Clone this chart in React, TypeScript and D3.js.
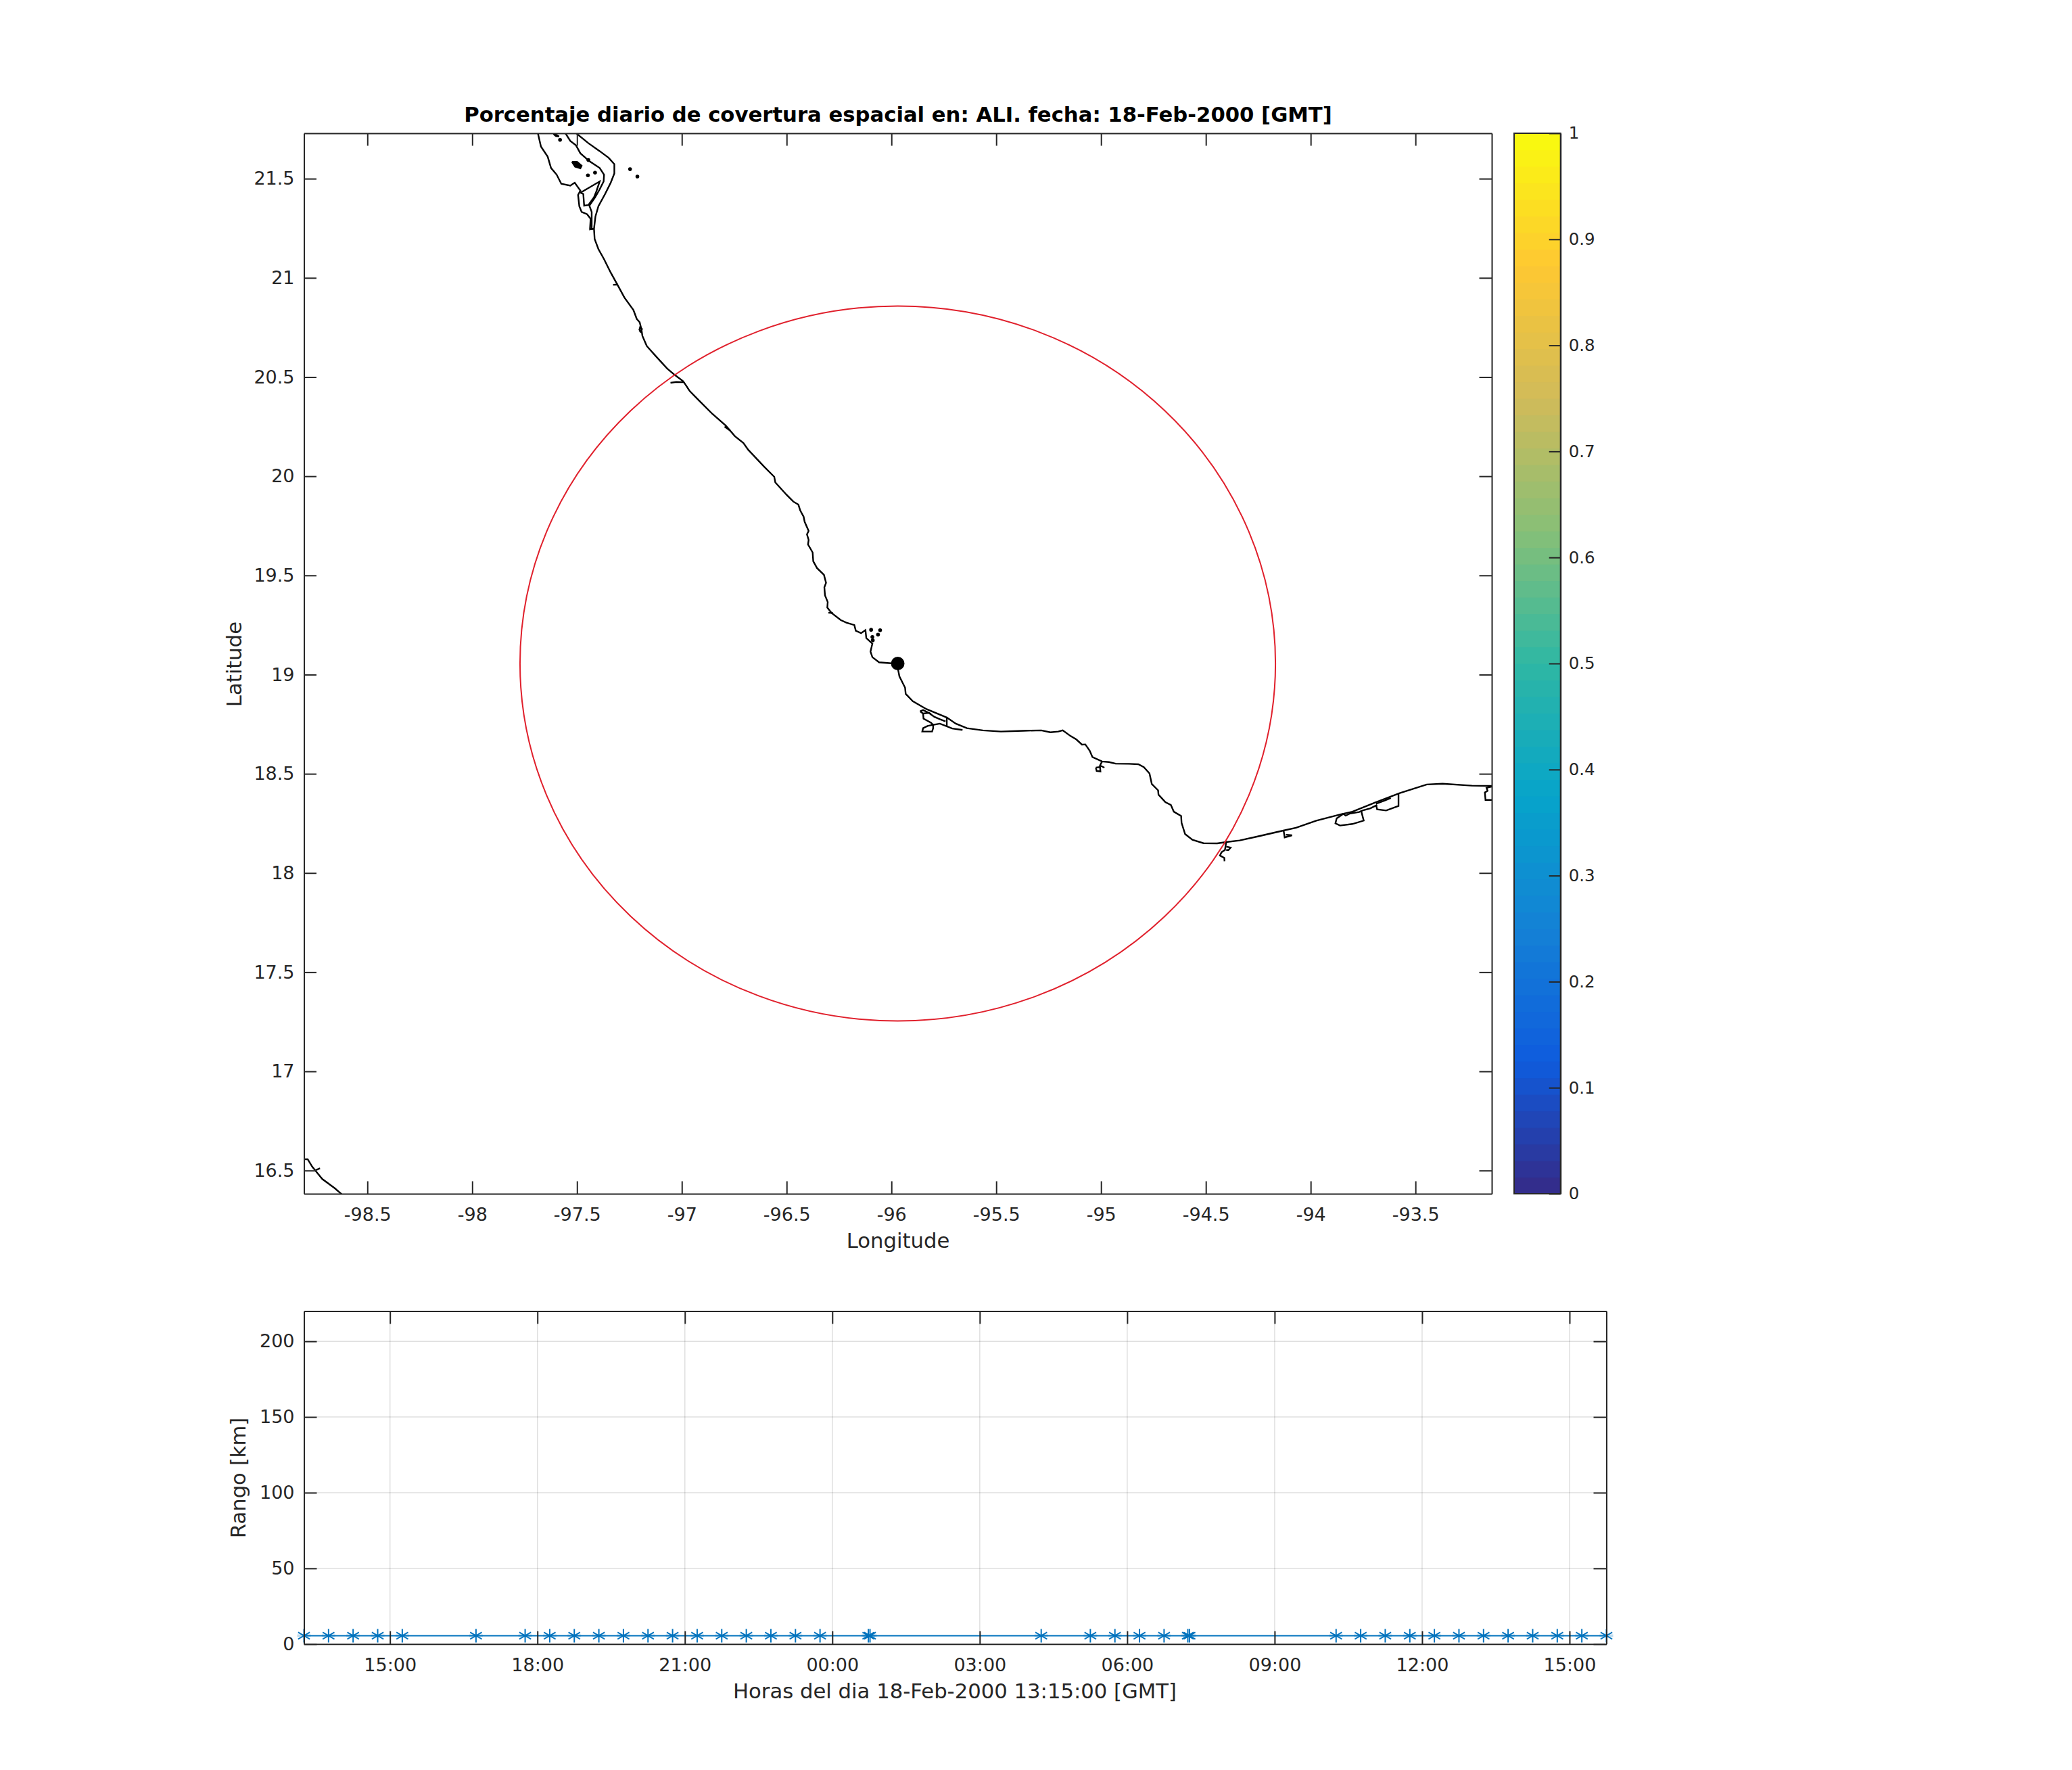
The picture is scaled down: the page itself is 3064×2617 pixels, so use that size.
import React, { useEffect, useRef } from 'react';
import * as d3 from 'd3';

type Pt = [number, number];

// Coastline, as [longitude, latitude]
const mainCoast: Pt[] = [
  [-97.511, 21.735], [-97.446, 21.679], [-97.392, 21.639], [-97.349, 21.605], [-97.322, 21.573], [-97.322, 21.526],
  [-97.339, 21.48], [-97.366, 21.423], [-97.398, 21.361], [-97.412, 21.31], [-97.419, 21.247], [-97.416, 21.196],
  [-97.398, 21.145], [-97.371, 21.094], [-97.339, 21.026], [-97.306, 20.963], [-97.274, 20.901], [-97.231, 20.838],
  [-97.215, 20.793], [-97.201, 20.776], [-97.193, 20.742], [-97.188, 20.707], [-97.167, 20.656], [-97.124, 20.605],
  [-97.07, 20.543], [-97.032, 20.509], [-96.995, 20.48], [-96.989, 20.472], [-96.962, 20.429], [-96.919, 20.383],
  [-96.855, 20.315], [-96.79, 20.255], [-96.747, 20.202], [-96.706, 20.167], [-96.683, 20.133], [-96.607, 20.048],
  [-96.559, 19.997], [-96.554, 19.969], [-96.5, 19.906], [-96.468, 19.872], [-96.444, 19.857], [-96.435, 19.827],
  [-96.419, 19.796], [-96.414, 19.77], [-96.395, 19.724], [-96.403, 19.707], [-96.395, 19.679], [-96.398, 19.656],
  [-96.376, 19.616], [-96.373, 19.571], [-96.355, 19.537], [-96.322, 19.503], [-96.312, 19.463], [-96.32, 19.44],
  [-96.317, 19.4], [-96.304, 19.366], [-96.306, 19.338], [-96.285, 19.31], [-96.242, 19.275], [-96.215, 19.262],
  [-96.177, 19.25], [-96.17, 19.221], [-96.145, 19.209], [-96.124, 19.224], [-96.12, 19.184], [-96.091, 19.156],
  [-96.1, 19.116], [-96.091, 19.088], [-96.059, 19.062], [-96.0, 19.057], [-95.968, 19.056], [-95.968, 19.023],
  [-95.962, 18.991], [-95.935, 18.934], [-95.932, 18.903], [-95.898, 18.866], [-95.833, 18.826], [-95.736, 18.784],
  [-95.693, 18.753], [-95.64, 18.73], [-95.564, 18.719], [-95.478, 18.713], [-95.371, 18.717], [-95.285, 18.719],
  [-95.242, 18.709], [-95.204, 18.713], [-95.183, 18.719], [-95.145, 18.69], [-95.118, 18.673], [-95.091, 18.647],
  [-95.075, 18.648], [-95.054, 18.616], [-95.041, 18.584], [-94.995, 18.562], [-94.962, 18.559], [-94.93, 18.551],
  [-94.866, 18.55], [-94.822, 18.548], [-94.796, 18.534], [-94.769, 18.502], [-94.758, 18.449], [-94.728, 18.417],
  [-94.726, 18.395], [-94.693, 18.357], [-94.667, 18.343], [-94.653, 18.309], [-94.618, 18.287], [-94.616, 18.253],
  [-94.599, 18.196], [-94.564, 18.167], [-94.511, 18.15], [-94.446, 18.149], [-94.403, 18.156], [-94.339, 18.164],
  [-94.253, 18.184], [-94.134, 18.213], [-94.07, 18.228], [-93.973, 18.264], [-93.855, 18.296], [-93.801, 18.309],
  [-93.693, 18.355], [-93.575, 18.403], [-93.446, 18.446], [-93.371, 18.45], [-93.231, 18.44], [-93.12, 18.439],
];
const lagoonInner: Pt[] = [
  [-97.559, 21.735], [-97.532, 21.69], [-97.505, 21.668], [-97.484, 21.628], [-97.441, 21.588], [-97.392, 21.554],
  [-97.371, 21.52], [-97.373, 21.486], [-97.392, 21.446], [-97.414, 21.406], [-97.441, 21.364], [-97.43, 21.332],
  [-97.43, 21.253], [-97.435, 21.245], [-97.421, 21.247],
];
const lagoonWest: Pt[] = [
  [-97.688, 21.735], [-97.672, 21.662], [-97.64, 21.611], [-97.624, 21.554], [-97.597, 21.52], [-97.575, 21.474],
  [-97.532, 21.465], [-97.511, 21.48], [-97.484, 21.44], [-97.495, 21.418], [-97.489, 21.361], [-97.478, 21.332],
  [-97.452, 21.321], [-97.435, 21.298], [-97.438, 21.247], [-97.421, 21.247],
];
const lagoonLoop: Pt[] = [
  [-97.484, 21.429], [-97.392, 21.486], [-97.408, 21.435], [-97.419, 21.406], [-97.446, 21.367], [-97.466, 21.364],
  [-97.47, 21.423], [-97.484, 21.429],
];
const islandA: Pt[] = [[-97.524, 21.585], [-97.5, 21.585], [-97.478, 21.565], [-97.484, 21.552], [-97.509, 21.56], [-97.524, 21.585]];
const islandB: Pt[] = [[-97.613, 21.725], [-97.6, 21.722], [-97.586, 21.713], [-97.6, 21.714], [-97.613, 21.725]];
const spurs: Pt[][] = [
  [[-97.328, 20.965], [-97.304, 20.966]],
  [[-97.203, 20.736], [-97.199, 20.751], [-97.19, 20.742], [-97.197, 20.728], [-97.203, 20.736]],
  [[-97.054, 20.471], [-97.027, 20.475], [-96.989, 20.474]],
  [[-96.796, 20.25], [-96.769, 20.23]],
  [[-96.301, 19.312], [-96.279, 19.31]],
];
const alvarado: Pt[][] = [
  [[-95.863, 18.815], [-95.849, 18.821], [-95.822, 18.807], [-95.849, 18.804], [-95.863, 18.815]],
  [[-95.849, 18.804], [-95.847, 18.778], [-95.812, 18.758], [-95.801, 18.747], [-95.769, 18.753], [-95.736, 18.739], [-95.71, 18.728], [-95.661, 18.721]],
  [[-95.736, 18.784], [-95.736, 18.739]],
  [[-95.822, 18.807], [-95.795, 18.787], [-95.769, 18.775], [-95.742, 18.764]],
  [[-95.801, 18.747], [-95.828, 18.741], [-95.849, 18.73], [-95.853, 18.713], [-95.806, 18.713], [-95.801, 18.73], [-95.801, 18.747]],
];
const rivers: Pt[][] = [
  [[-94.995, 18.562], [-95.005, 18.542], [-94.984, 18.531]],
  [[-95.025, 18.531], [-95.005, 18.534], [-95.003, 18.512], [-95.021, 18.514], [-95.025, 18.531]],
  [[-94.403, 18.156], [-94.409, 18.116], [-94.425, 18.105], [-94.433, 18.088], [-94.412, 18.076], [-94.411, 18.059]],
  [[-94.403, 18.133], [-94.382, 18.128], [-94.392, 18.116], [-94.403, 18.116]],
  [[-94.129, 18.213], [-94.124, 18.179], [-94.089, 18.19], [-94.118, 18.193]],
];
const easternLagoons: Pt[][] = [
  [[-93.844, 18.298], [-93.876, 18.275], [-93.882, 18.25], [-93.86, 18.239], [-93.801, 18.247], [-93.747, 18.264], [-93.758, 18.309]],
  [[-93.844, 18.298], [-93.833, 18.289], [-93.812, 18.3], [-93.769, 18.307], [-93.753, 18.315], [-93.715, 18.326], [-93.683, 18.343]],
  [[-93.688, 18.343], [-93.683, 18.321], [-93.64, 18.315], [-93.581, 18.338], [-93.581, 18.4]],
  [[-93.688, 18.349], [-93.645, 18.366], [-93.618, 18.378]],
  [[-93.12, 18.439], [-93.161, 18.429], [-93.156, 18.414], [-93.169, 18.406], [-93.166, 18.368], [-93.12, 18.368]],
];
const southWestCoast: Pt[] = [
  [-98.81, 16.557], [-98.785, 16.557], [-98.763, 16.519], [-98.737, 16.485], [-98.715, 16.457], [-98.656, 16.411], [-98.62, 16.378],
];
const southWestSpur: Pt[] = [[-98.747, 16.502], [-98.726, 16.511]];
const islets: Pt[] = [
  [-97.448, 21.517], [-97.414, 21.53], [-97.581, 21.696], [-97.247, 21.548], [-97.212, 21.511], [-97.446, 21.594],
  [-96.097, 19.226], [-96.054, 19.224], [-96.064, 19.202], [-96.091, 19.19], [-96.089, 19.173],
];

const siteLonLat: Pt = [-95.97, 19.056];
const circleRadiusDeg = 1.802;

const lonDomain: Pt = [-98.8026, -93.136];
const latDomain: Pt = [16.383, 21.729];
const lonTicks = [-98.5, -98, -97.5, -97, -96.5, -96, -95.5, -95, -94.5, -94, -93.5];
const latTicks = [16.5, 17, 17.5, 18, 18.5, 19, 19.5, 20, 20.5, 21, 21.5];

const parulaStops = ['#352a87', '#0f5cdd', '#1481d6', '#06a4ca', '#2eb7a4', '#87bf77', '#d1bb59', '#fec832', '#f9fb0e'];
const colorTicks = [0, 0.1, 0.2, 0.3, 0.4, 0.5, 0.6, 0.7, 0.8, 0.9, 1];

// Hours with data (18 to 19 Feb 2000)
const sampleTimes = [
  '2000-02-18T13:15Z', '2000-02-18T13:45Z', '2000-02-18T14:15Z', '2000-02-18T14:45Z', '2000-02-18T15:15Z',
  '2000-02-18T16:45Z', '2000-02-18T17:45Z', '2000-02-18T18:15Z', '2000-02-18T18:45Z', '2000-02-18T19:15Z',
  '2000-02-18T19:45Z', '2000-02-18T20:15Z', '2000-02-18T20:45Z', '2000-02-18T21:15Z', '2000-02-18T21:45Z',
  '2000-02-18T22:15Z', '2000-02-18T22:45Z', '2000-02-18T23:15Z', '2000-02-18T23:45Z', '2000-02-19T00:44Z',
  '2000-02-19T00:46Z', '2000-02-19T04:15Z', '2000-02-19T05:15Z', '2000-02-19T05:45Z', '2000-02-19T06:15Z',
  '2000-02-19T06:45Z', '2000-02-19T07:14Z', '2000-02-19T07:16Z', '2000-02-19T10:15Z', '2000-02-19T10:45Z',
  '2000-02-19T11:15Z', '2000-02-19T11:45Z', '2000-02-19T12:15Z', '2000-02-19T12:45Z', '2000-02-19T13:15Z',
  '2000-02-19T13:45Z', '2000-02-19T14:15Z', '2000-02-19T14:45Z', '2000-02-19T15:15Z', '2000-02-19T15:45Z',
];
const sampleRange = [
  5.5, 5.5, 5.5, 5.5, 5.5, 5.5, 5.5, 5.5, 5.5, 5.5,
  5.5, 5.5, 5.5, 5.5, 5.5, 5.5, 5.5, 5.5, 5.5, 5.5,
  5.5, 5.5, 5.5, 5.5, 5.5, 5.5, 5.5, 5.5, 5.5, 5.5,
  5.5, 5.5, 5.5, 5.5, 5.5, 5.5, 5.5, 5.5, 5.5, 5.5,
];
const timeDomain = ['2000-02-18T13:15Z', '2000-02-19T15:45Z'];
const timeTicks = [
  '2000-02-18T15:00Z', '2000-02-18T18:00Z', '2000-02-18T21:00Z', '2000-02-19T00:00Z', '2000-02-19T03:00Z',
  '2000-02-19T06:00Z', '2000-02-19T09:00Z', '2000-02-19T12:00Z', '2000-02-19T15:00Z',
];
const rangeTicks = [0, 50, 100, 150, 200];

const FONT = '"DejaVu Sans"';
const INK = '#262626';

// box with ticks pointing inwards on all four sides, labels on left and bottom
function drawBox(
  g: d3.Selection<SVGGElement, unknown, null, undefined>,
  x: any,
  y: any,
  xTicks: any[],
  yTicks: number[],
  xFormat: (d: any) => string,
  tick: number,
) {
  const [x0, x1] = x.range();
  const [y1, y0] = y.range();
  const sides = [
    { t: `translate(0,${y1})`, a: d3.axisBottom(x).tickValues(xTicks).tickFormat(xFormat as any).tickPadding(21) },
    { t: `translate(0,${y0})`, a: d3.axisTop(x).tickValues(xTicks).tickFormat(() => '') },
    { t: `translate(${x0},0)`, a: d3.axisLeft(y).tickValues(yTicks).tickFormat((d: any) => String(d)).tickPadding(14) },
    { t: `translate(${x1},0)`, a: d3.axisRight(y).tickValues(yTicks).tickFormat(() => '') },
  ];
  sides.forEach(({ t, a }) => {
    const ag = g.append('g').attr('transform', t).call((a as any).tickSizeInner(-tick).tickSizeOuter(0));
    ag.selectAll('.domain').attr('stroke', INK).attr('stroke-width', 2);
    ag.selectAll('.tick line').attr('stroke', INK).attr('stroke-width', 2);
    ag.selectAll('text').attr('fill', INK).style('font-family', FONT).style('font-size', '27px');
  });
}

function addLabel(svg: any, text: string, x: number, y: number, size: number, rotate = false) {
  svg
    .append('text')
    .attr('transform', `translate(${x},${y})${rotate ? ' rotate(-90)' : ''}`)
    .attr('text-anchor', 'middle')
    .attr('fill', INK)
    .style('font-family', FONT)
    .style('font-size', `${size}px`)
    .text(text);
}

export default function App() {
  const svgRef = useRef<SVGSVGElement>(null);

  useEffect(() => {
    if (!svgRef.current) return;
    const svg = d3.select(svgRef.current);
    svg.selectAll('*').remove();

    // Map panel
    const lon = d3.scaleLinear().domain(lonDomain).range([449.5, 2206]);
    const lat = d3.scaleLinear().domain(latDomain).range([1765, 197]);

    svg.append('defs').append('clipPath').attr('id', 'map-clip')
      .append('rect')
      .attr('x', 449.5).attr('y', 197).attr('width', 2206 - 449.5).attr('height', 1765 - 197);

    const mapLine = d3.line<Pt>().x((d) => lon(d[0])).y((d) => lat(d[1]));
    const map = svg.append('g').attr('clip-path', 'url(#map-clip)');

    const coastPaths: Pt[][] = [
      mainCoast, lagoonInner, lagoonWest, lagoonLoop, southWestCoast, southWestSpur,
      ...spurs, ...alvarado, ...rivers, ...easternLagoons,
    ];
    map.selectAll('path.coast').data(coastPaths).enter().append('path')
      .attr('class', 'coast')
      .attr('d', (d) => mapLine(d))
      .attr('fill', 'none')
      .attr('stroke', '#000')
      .attr('stroke-width', 2.4);

    map.selectAll('path.island').data([islandA, islandB]).enter().append('path')
      .attr('class', 'island')
      .attr('d', (d) => mapLine(d))
      .attr('fill', '#000')
      .attr('stroke', '#000')
      .attr('stroke-width', 2.4);

    map.selectAll('circle.islet').data(islets).enter().append('circle')
      .attr('class', 'islet')
      .attr('cx', (d) => lon(d[0]))
      .attr('cy', (d) => lat(d[1]))
      .attr('r', 2.8)
      .attr('fill', '#000');

    map.append('ellipse')
      .attr('cx', lon(siteLonLat[0]))
      .attr('cy', lat(siteLonLat[1]))
      .attr('rx', lon(siteLonLat[0] + circleRadiusDeg) - lon(siteLonLat[0]))
      .attr('ry', lat(siteLonLat[1]) - lat(siteLonLat[1] + circleRadiusDeg))
      .attr('fill', 'none')
      .attr('stroke', '#e0202c')
      .attr('stroke-width', 2);

    map.append('circle')
      .attr('cx', lon(siteLonLat[0]))
      .attr('cy', lat(siteLonLat[1]))
      .attr('r', 10)
      .attr('fill', '#000');

    drawBox(svg.append('g') as any, lon, lat, lonTicks, latTicks, (d) => String(d), 18.5);

    svg.append('text')
      .attr('x', 1328).attr('y', 180)
      .attr('text-anchor', 'middle')
      .attr('fill', '#000')
      .style('font-family', FONT)
      .style('font-size', '30.7px')
      .style('font-weight', 'bold')
      .text('Porcentaje diario de covertura espacial en: ALI. fecha: 18-Feb-2000 [GMT]');
    addLabel(svg, 'Longitude', 1328, 1845, 30.7);
    addLabel(svg, 'Latitude', 357, 982, 30.7, true);

    // Colorbar
    const cbar = d3.scaleLinear().domain([0, 1]).range([1765, 197]);
    const parula = d3.scaleLinear<string>()
      .domain(parulaStops.map((_, i) => i / (parulaStops.length - 1)))
      .range(parulaStops)
      .interpolate(d3.interpolateRgb);
    const levels = d3.range(64);
    svg.append('g').selectAll('rect').data(levels).enter().append('rect')
      .attr('x', 2239)
      .attr('width', 2307.7 - 2239)
      .attr('y', (d) => cbar((d + 1) / 64))
      .attr('height', (d) => cbar(d / 64) - cbar((d + 1) / 64) + 0.6)
      .attr('fill', (d) => parula((d + 0.5) / 64));
    const cbarAxis = svg.append('g')
      .attr('transform', 'translate(2307.7,0)')
      .call(d3.axisRight(cbar).tickValues(colorTicks).tickFormat((d) => String(d)).tickSizeInner(-17).tickSizeOuter(0).tickPadding(12) as any);
    cbarAxis.selectAll('.domain').attr('stroke', INK).attr('stroke-width', 2);
    cbarAxis.selectAll('.tick line').attr('stroke', INK).attr('stroke-width', 2);
    cbarAxis.selectAll('text').attr('fill', INK).style('font-family', FONT).style('font-size', '24.5px');
    svg.append('rect')
      .attr('x', 2239).attr('y', 197).attr('width', 2307.7 - 2239).attr('height', 1765 - 197)
      .attr('fill', 'none').attr('stroke', INK).attr('stroke-width', 2);

    // Range panel
    const time = d3.scaleUtc().domain(timeDomain.map((d) => new Date(d))).range([449.5, 2375.5]);
    const range = d3.scaleLinear().domain([0, 220]).range([2430.8, 1938.4]);
    const tickDates = timeTicks.map((d) => new Date(d));

    const grid = svg.append('g').attr('stroke', INK).attr('stroke-opacity', 0.15).attr('stroke-width', 1.5);
    grid.selectAll('line.v').data(tickDates).enter().append('line')
      .attr('class', 'v')
      .attr('x1', (d) => time(d)).attr('x2', (d) => time(d))
      .attr('y1', 1938.4).attr('y2', 2430.8);
    grid.selectAll('line.h').data(rangeTicks.slice(1)).enter().append('line')
      .attr('class', 'h')
      .attr('y1', (d) => range(d)).attr('y2', (d) => range(d))
      .attr('x1', 449.5).attr('x2', 2375.5);

    const points = sampleTimes.map((t, i) => ({ t: new Date(t), v: sampleRange[i] }));
    const rangeLine = d3.line<{ t: Date; v: number }>().x((d) => time(d.t)).y((d) => range(d.v));

    // pale horizontal arm of each star, under the line
    svg.selectAll('line.arm').data(points).enter().append('line')
      .attr('class', 'arm')
      .attr('x1', (d) => time(d.t) - 10).attr('x2', (d) => time(d.t) + 10)
      .attr('y1', (d) => range(d.v)).attr('y2', (d) => range(d.v))
      .attr('stroke', '#0072bd')
      .attr('stroke-opacity', 0.25)
      .attr('stroke-width', 4);

    svg.append('path')
      .attr('d', rangeLine(points))
      .attr('fill', 'none')
      .attr('stroke', '#0072bd')
      .attr('stroke-width', 2);

    const star = d3.symbol().type(d3.symbolAsterisk).size(283);
    svg.selectAll('path.star').data(points).enter().append('path')
      .attr('class', 'star')
      .attr('transform', (d) => `translate(${time(d.t)},${range(d.v)})`)
      .attr('d', star() as string)
      .attr('fill', 'none')
      .attr('stroke', '#0072bd')
      .attr('stroke-width', 2);

    drawBox(svg.append('g') as any, time, range, tickDates, rangeTicks, d3.utcFormat('%H:%M'), 19);

    addLabel(svg, 'Horas del dia 18-Feb-2000 13:15:00 [GMT]', 1412, 2511, 30.7);
    addLabel(svg, 'Rango [km]', 363, 2185, 30.7, true);
  }, []);

  return (
    <svg
      ref={svgRef}
      width={3064}
      height={2617}
      style={{ position: 'absolute', left: 0, top: 0, background: '#fff' }}
    />
  );
}
